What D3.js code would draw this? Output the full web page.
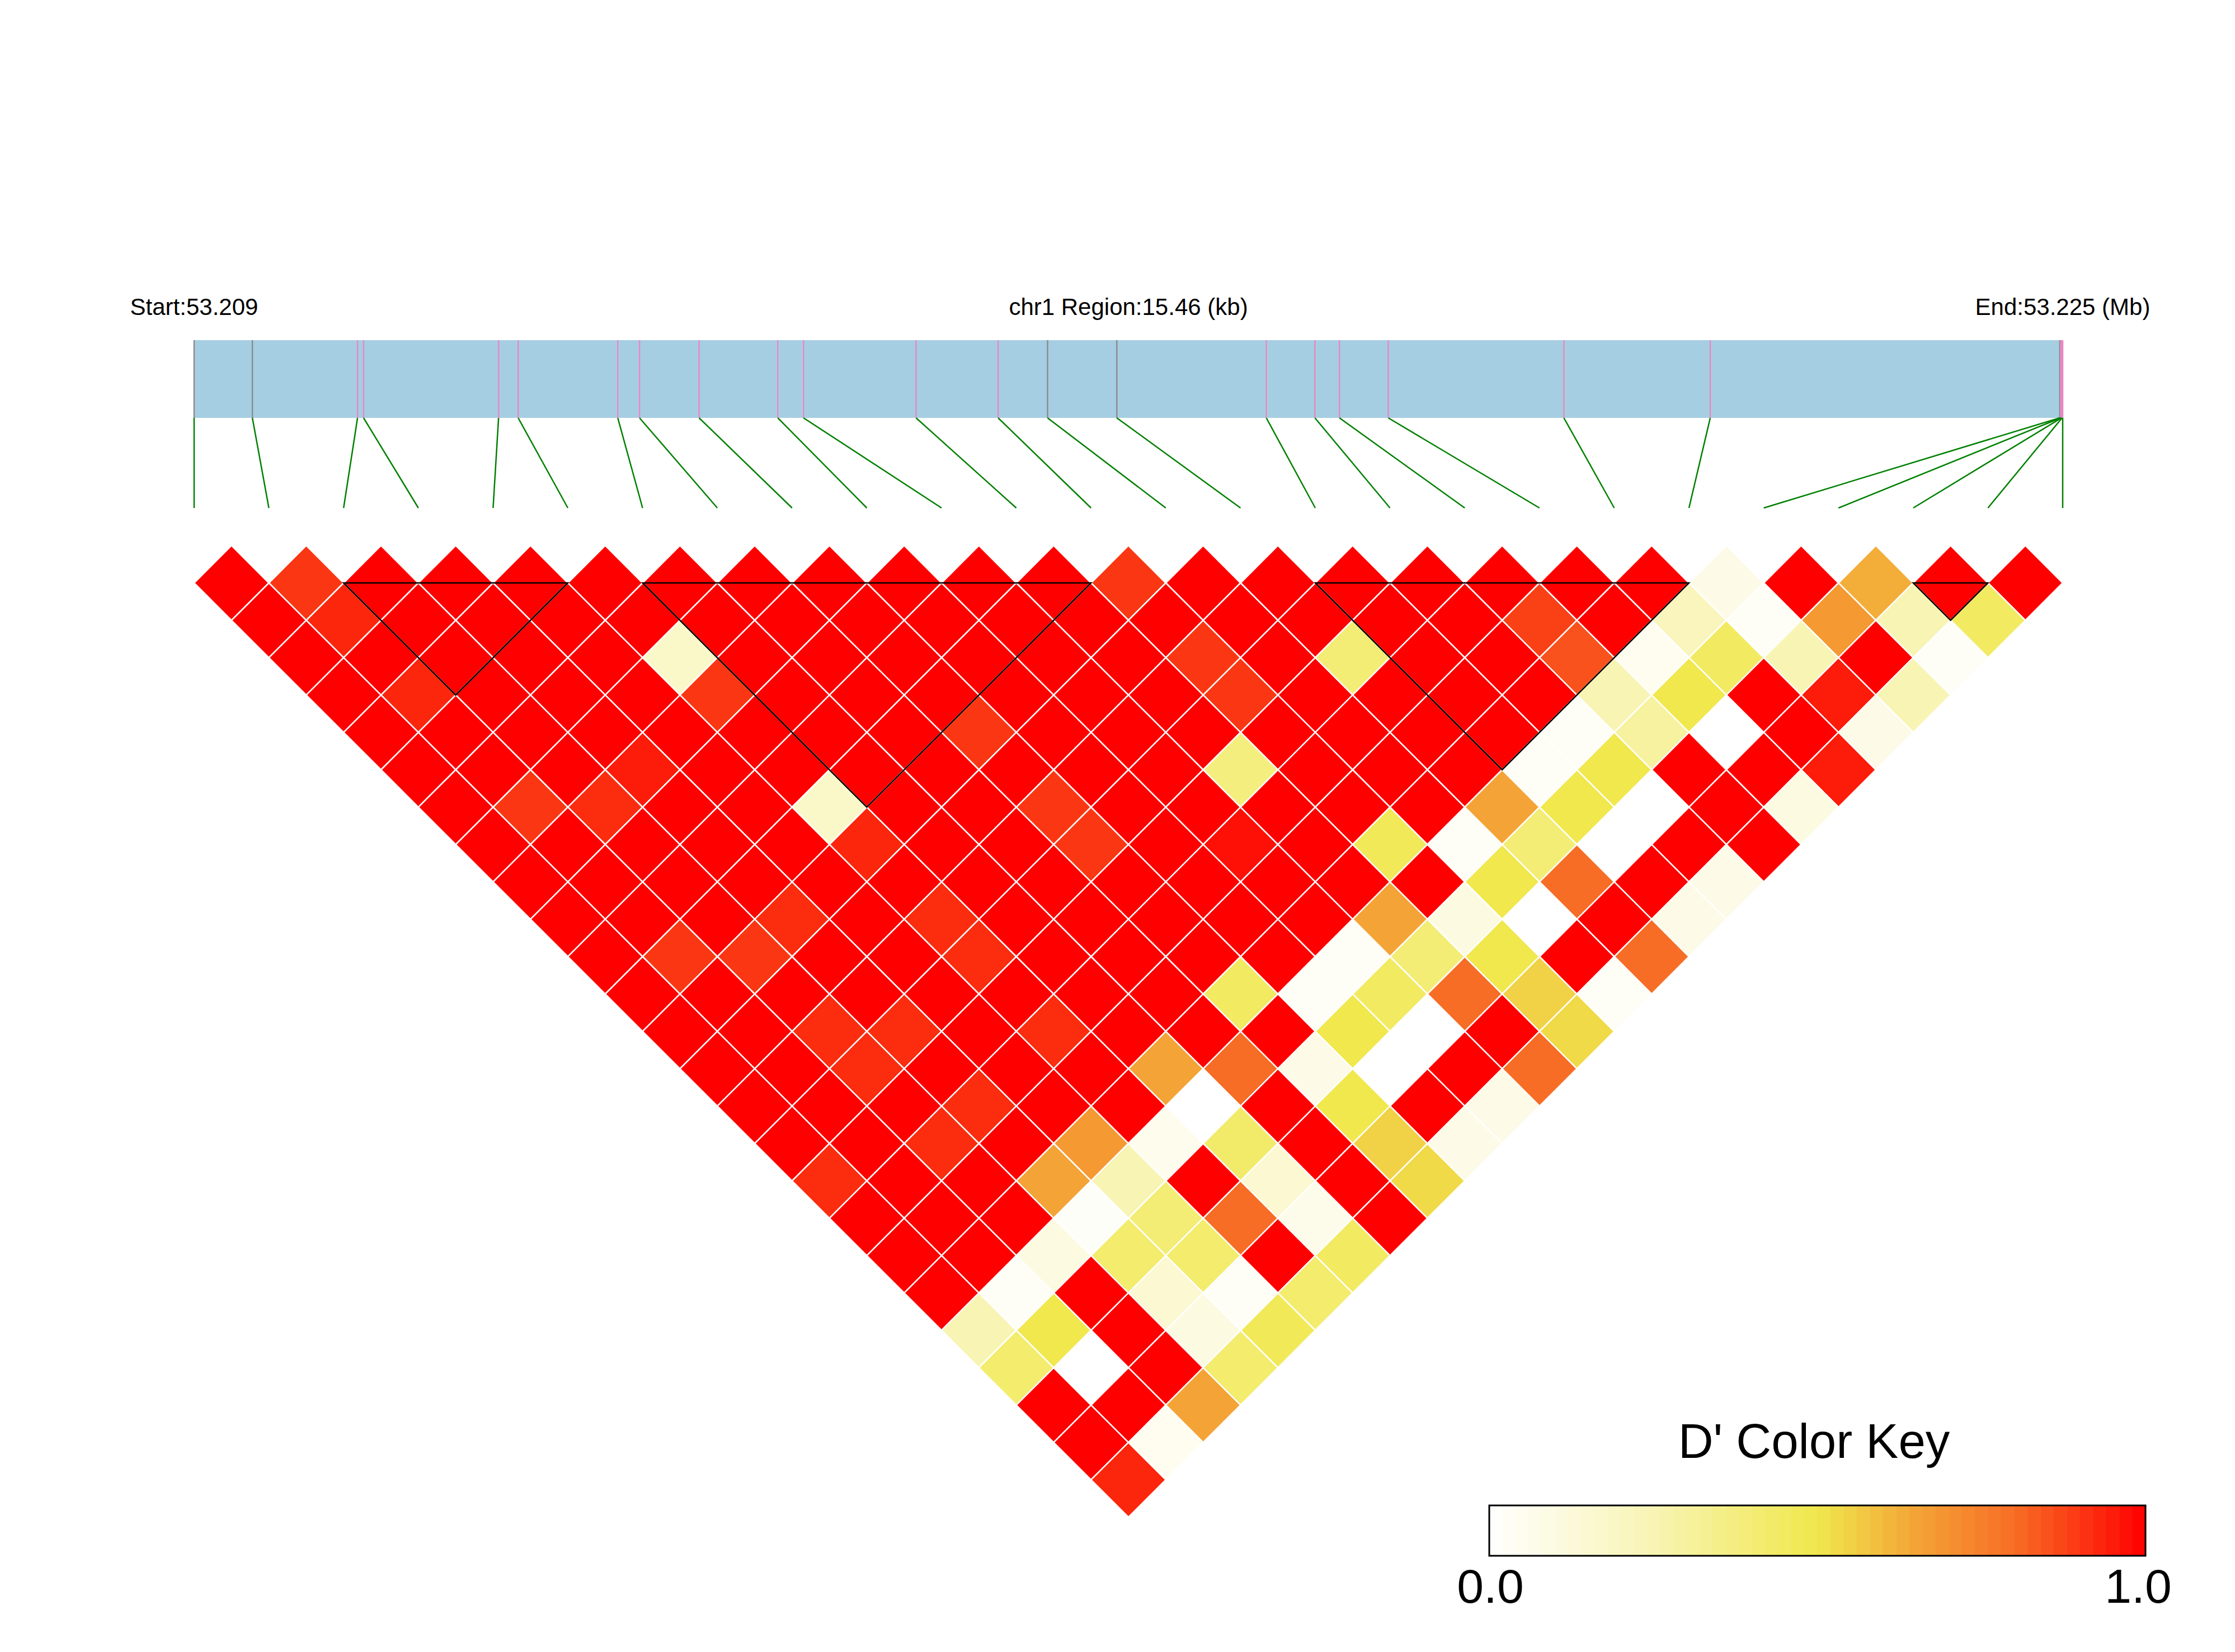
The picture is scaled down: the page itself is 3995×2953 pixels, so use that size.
<!DOCTYPE html>
<html>
<head>
<meta charset="utf-8">
<script src="https://cdn.jsdelivr.net/npm/d3@7"></script>
<style>
  body { margin: 0; background: #fff; }
  text { font-family: "Liberation Sans", Arial, sans-serif; fill: #000; }
</style>
</head>
<body>
<div id="chart"></div>
<script>
const chrom = "chr1";
const regionStart = 53209300;
const regionEnd = 53224760;

// SNP positions (bp) and colour of their tick on the gene bar
const snpPos = [53209300, 53209782, 53210652, 53210702, 53211819, 53211981, 53212805, 53212985,
  53213478, 53214129, 53214342, 53215273, 53215952, 53216361, 53216934, 53218171, 53218573,
  53218776, 53219180, 53220633, 53221844, 53224736, 53224744, 53224750, 53224755, 53224760];
const markColor = ["#8c8c8c", "#8c8c8c", "#e78ac3", "#e78ac3", "#e78ac3", "#e78ac3", "#e78ac3",
  "#e78ac3", "#e78ac3", "#e78ac3", "#e78ac3", "#e78ac3", "#e78ac3", "#8c8c8c", "#8c8c8c",
  "#e78ac3", "#e78ac3", "#e78ac3", "#e78ac3", "#e78ac3", "#e78ac3", "#8c8c8c", "#e78ac3",
  "#e78ac3", "#e78ac3", "#e78ac3"];

// LD blocks as [first SNP, last SNP]
const ldBlocks = [[2, 5], [6, 12], [15, 20], [23, 24]];

// D' values, one array per SNP distance (lag 1, lag 2, ...), starting at SNP 0
const dPrime = [
  [1, 0.9, 1, 1, 1, 1, 1, 1, 1, 1, 1, 1, 0.9, 1, 1, 1, 1, 1, 1, 1, 0.08, 1, 0.63, 1, 1],
  [1, 0.93, 1, 1, 1, 1, 1, 1, 1, 1, 1, 1, 1, 1, 1, 1, 1, 0.88, 1, 0.22, 0.03, 0.68, 0.25, 0.45],
  [1, 1, 1, 1, 1, 0.18, 1, 1, 1, 1, 1, 1, 0.9, 1, 0.4, 1, 1, 0.85, 0.05, 0.45, 0.25, 1, 0.03],
  [1, 0.93, 1, 1, 1, 0.9, 1, 1, 1, 1, 1, 1, 0.9, 1, 1, 1, 1, 0.25, 0.5, 1, 0.95, 0.25],
  [1, 1, 1, 1, 1, 1, 1, 1, 0.9, 1, 1, 1, 1, 1, 1, 1, 0.03, 0.3, 0, 1, 0.08],
  [1, 1, 1, 0.95, 1, 1, 1, 1, 1, 1, 1, 0.38, 1, 1, 1, 0.03, 0.5, 1, 1, 0.95],
  [1, 0.9, 0.92, 1, 1, 0.18, 1, 1, 0.9, 1, 1, 1, 1, 1, 0.65, 0.5, 0, 1, 0.1],
  [1, 1, 1, 1, 1, 0.93, 1, 1, 0.9, 1, 0.97, 1, 0.47, 0.03, 0.4, 0, 1, 1],
  [1, 1, 1, 1, 1, 1, 1, 1, 1, 1, 1, 1, 1, 0.5, 0.8, 1, 0.08],
  [1, 1, 1, 0.92, 1, 0.92, 1, 1, 1, 1, 1, 0.65, 0.1, 0, 1, 0.08],
  [1, 0.9, 0.9, 1, 1, 0.92, 1, 1, 1, 1, 0.03, 0.4, 0.5, 1, 0.8],
  [1, 1, 1, 1, 1, 1, 1, 1, 0.45, 0.03, 0.45, 0.8, 0.55, 0.03],
  [1, 1, 0.92, 0.92, 1, 0.92, 1, 1, 1, 0.5, 0, 1, 0.53],
  [1, 1, 0.92, 1, 1, 1, 0.65, 0.8, 0.08, 0, 1, 0.8],
  [1, 1, 1, 0.92, 1, 1, 0, 1, 0.5, 1, 0.08],
  [1, 1, 0.92, 1, 0.68, 0.06, 0.43, 1, 0.55, 0.08],
  [0.92, 1, 1, 0.65, 0.25, 1, 0.15, 1, 0.53],
  [1, 1, 1, 0.02, 0.4, 0.8, 0.07, 1],
  [1, 1, 0.1, 0.42, 0.42, 1, 0.45],
  [1, 0.03, 1, 0.15, 0.03, 0.42],
  [0.25, 0.5, 1, 0.1, 0.47],
  [0.42, 0, 1, 0.42],
  [1, 1, 0.65],
  [1, 0.05],
  [0.93]
];

const keyStops = [0, 0.25, 0.5, 0.65, 0.8, 1];
const keyColors = ["#ffffff", "#f8f4b4", "#f0e84c", "#f4a436", "#f76d25", "#ff0000"];
const keyTicks = [0, 1];

const graphBuilder = () => {
  const [width, height] = [3995, 2953];
  const [left, right] = [347, 3687];
  const svg = d3.select("#chart").append("svg").attr("width", width).attr("height", height);

  const x = d3.scaleLinear().domain([0, snpPos.length - 1]).range([left, right]);
  const pos = d3.scaleLinear().domain([regionStart, regionEnd]).range([left, right]);
  const color = d3.scaleLinear().domain(keyStops).range(keyColors).clamp(true);
  const half = (x(1) - x(0)) / 2;
  const yFirst = 1042;
  const yDiag = yFirst - half;

  // gene map
  const bar = { top: 608, bottom: 747, lineEnd: 908 };
  svg.append("rect")
  .attr("x", pos(regionStart)).attr("y", bar.top)
  .attr("width", pos(regionEnd) - pos(regionStart)).attr("height", bar.bottom - bar.top)
  .attr("fill", "#a6cee3");

  svg.append("g").selectAll("line").data(snpPos).enter().append("line")
  .attr("x1", d => pos(d)).attr("x2", d => pos(d))
  .attr("y1", bar.top).attr("y2", bar.bottom)
  .attr("stroke", (d, i) => markColor[i])
  .attr("stroke-width", 2.5);

  svg.append("g").selectAll("line").data(snpPos).enter().append("line")
  .attr("x1", d => pos(d)).attr("y1", bar.bottom)
  .attr("x2", (d, i) => x(i)).attr("y2", bar.lineEnd)
  .attr("stroke", "#008000")
  .attr("stroke-width", 2.5);

  const labels = svg.append("g").attr("font-size", 42).attr("text-anchor", "middle");
  labels.append("text").attr("x", pos(regionStart)).attr("y", 563)
  .text(`Start:${(regionStart / 1e6).toFixed(3)}`);
  labels.append("text").attr("x", (pos(regionStart) + pos(regionEnd)) / 2).attr("y", 563)
  .text(`${chrom} Region:${((regionEnd - regionStart) / 1000).toFixed(2)} (kb)`);
  labels.append("text").attr("x", pos(regionEnd)).attr("y", 563)
  .text(`End:${(regionEnd / 1e6).toFixed(3)} (Mb)`);

  // heatmap cells
  const cells = [];
  dPrime.forEach((row, k) => row.forEach((v, i) => cells.push({ i: i, j: i + k + 1, v: v })));

  const diamond = (cx, cy) => `M${cx},${cy - half}L${cx + half},${cy}L${cx},${cy + half}L${cx - half},${cy}Z`;

  svg.append("g").selectAll("path").data(cells).enter().append("path")
  .attr("d", d => diamond((x(d.i) + x(d.j)) / 2, yDiag + (d.j - d.i) * half))
  .attr("fill", d => color(d.v))
  .attr("stroke", "#fff")
  .attr("stroke-width", 2.5);

  svg.append("g").selectAll("path").data(ldBlocks).enter().append("path")
  .attr("d", d => `M${x(d[0])},${yFirst}L${x(d[1])},${yFirst}L${(x(d[0]) + x(d[1])) / 2},${yFirst + (d[1] - d[0]) * half}Z`)
  .attr("fill", "none")
  .attr("stroke", "#000")
  .attr("stroke-width", 2.5);

  // colour key
  const keyX = d3.scaleLinear().domain([0, 1]).range([2662, 3835]);
  const [keyTop, keyBottom] = [2691, 2781];
  const bands = d3.range(50).map(k => k / 50);
  const key = svg.append("g");
  key.selectAll("rect").data(bands).enter().append("rect")
  .attr("x", d => keyX(d)).attr("y", keyTop)
  .attr("width", keyX(1 / 50) - keyX(0) + 0.5).attr("height", keyBottom - keyTop)
  .attr("fill", d => color(d + 1 / 100));
  key.append("rect")
  .attr("x", keyX(0)).attr("y", keyTop)
  .attr("width", keyX(1) - keyX(0)).attr("height", keyBottom - keyTop)
  .attr("fill", "none").attr("stroke", "#000").attr("stroke-width", 3);
  key.append("text").attr("x", (keyX(0) + keyX(1)) / 2 - 6).attr("y", 2606)
  .attr("font-size", 87).attr("text-anchor", "middle").text("D' Color Key");
  key.selectAll(".tick").data(keyTicks).enter().append("text")
  .attr("class", "tick")
  .attr("x", d => keyX(d) + (d === 0 ? 2 : -13)).attr("y", 2865)
  .attr("font-size", 86).attr("text-anchor", "middle")
  .text(d => d.toFixed(1));
}

document.addEventListener("DOMContentLoaded", graphBuilder);
</script>
</body>
</html>
